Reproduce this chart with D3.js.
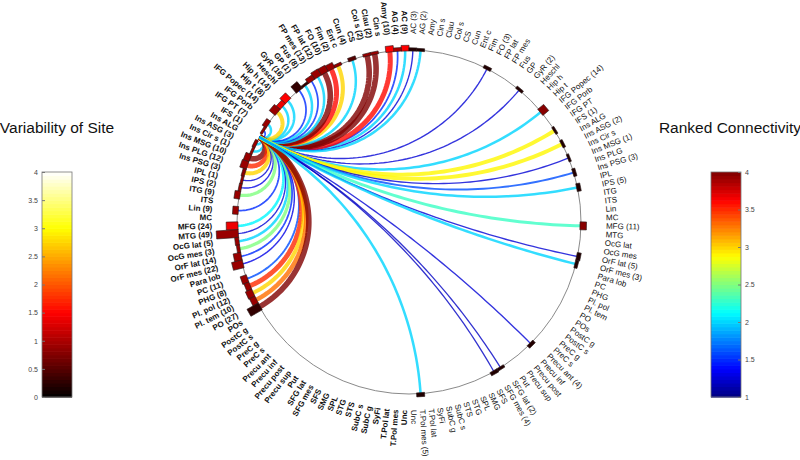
<!DOCTYPE html>
<html><head><meta charset="utf-8">
<script src="https://cdn.jsdelivr.net/npm/d3@7"></script>
<style>body{margin:0;background:#fff}</style>
</head><body><svg id="c" width="800" height="460"></svg>
<script>
// ---------- data ----------
const regions = ["AC","AG","Amy","Cin s","Clau","Col s","CS","Cun","Ent c","Fim","FO","FP lat","FP mes","Fus","GP","GyR","Heschl","Hip h","Hip t","IFG Popec","IFG Porb","IFG PT","IFS","Ins ALG","Ins ASG","Ins Cir s","Ins MSG","Ins PLG","Ins PSG","IPL","IPS","ITG","ITS","Lin","MC","MFG","MTG","OcG lat","OcG mes","OrF lat","OrF mes","Para lob","PC","PHG","Pl. pol","Pl. tem","PO","POs","PostC g","PostC s","PreC g","PreC s","Precu ant","Precu inf","Precu post","Precu sup","Put","SFG lat","SFG mes","SFS","SMG","SPL","STG","STS","SubC s","SubC g","SyFi","T.Pol lat","T.Pol mes","Unc"];
// number of sites per region (0 = none), left hemisphere (bold) and right hemisphere
const leftCounts = [9,4,10,0,2,2,0,4,0,2,10,12,13,8,1,16,0,14,8,14,0,7,1,0,3,1,10,12,3,1,2,9,0,9,0,24,49,5,3,14,22,0,11,8,12,10,27,0,0,0,0,0,0,0,0,0,0,0,0,0,0,0,0,0,0,0,0,0,0,0];
const rightCounts = [3,2,0,0,0,0,0,0,0,0,3,0,0,0,0,2,0,0,0,14,0,0,1,0,2,0,1,0,3,0,5,0,0,0,0,11,0,0,0,5,3,0,0,0,0,0,0,0,0,0,0,0,4,0,0,0,0,2,4,0,0,0,0,0,0,0,0,0,5,0];
// variability of site (0..4) for each region with sites
const leftVariability = [1.5,1.0,1.5,0,0.9,0.9,0,0.5,0,0.9,0.9,0.9,0.9,0.9,0.3,0.3,0,1.5,1.4,0.9,0,0.9,0.9,0,0.9,0.9,0.9,0.9,0.8,0.9,0.9,0.9,0,0.9,0,1.4,0.9,0.9,0.9,0.9,0.9,0,0.9,0.9,0.9,0.9,0.3,0,0,0,0,0,0,0,0,0,0,0,0,0,0,0,0,0,0,0,0,0,0,0];
const rightVariability = [0.2,0.2,0,0,0,0,0,0,0,0,0.2,0,0,0,0,0.2,0,0,0,0.8,0,0,0.2,0,0.2,0,0.2,0,0.2,0,0.2,0,0,0,0,0.8,0,0,0,0.2,0.2,0,0,0,0,0,0,0,0,0,0,0,0.2,0,0,0,0,0.2,0.2,0,0,0,0,0,0,0,0,0,0.2,0];
// hub region (left hemisphere)
const hubRegion = "Ins ALG";
// ranked connectivity (1..4) from hub to each target
const leftLinkTargets = ["AC","AG","Amy","Clau","Col s","Cun","Fim","FO","FP lat","FP mes","Fus","GP","GyR","Hip h","Hip t","IFG Popec","IFG PT","IFS","Ins ASG","Ins Cir s","Ins MSG","Ins PLG","Ins PSG","IPL","IPS","ITG","Lin","MFG","MTG","OcG lat","OcG mes","OrF lat","OrF mes","PC","PHG","Pl. pol","Pl. tem","PO"];
const leftLinkRanks   = [2.0,1.5,3.6,4.0,4.0,2.0,3.0,3.6,4.0,2.0,1.5,2.0,1.5,2.0,2.0,3.0,2.0,1.5,2.0,2.0,4.0,3.5,3.0,1.25,1.3,2.5,1.5,2.1,1.25,2.0,2.5,1.5,1.3,1.6,3.5,3.0,3.3,4.0];
const rightLinkTargets = ["AC","AG","FO","GyR","IFG Popec","IFS","Ins ASG","Ins MSG","Ins PSG","IPS","MFG","OrF lat","OrF mes","Precu ant","SFG lat","SFG mes","T.Pol mes"];
const rightLinkRanks   = [1.25,2.0,1.25,1.25,2.0,2.9,2.9,1.25,1.6,2.0,2.3,1.25,2.0,1.25,1.2,1.2,2.0];
const variabilityTicks = [0,0.5,1,1.5,2,2.5,3,3.5,4];
const connectivityTicks = [1,1.5,2,2.5,3,3.5,4];

// ---------- setup ----------
const svg = d3.select("#c");
const cx = 409, cy = 222, R = 172, labelRx = 197, labelRy = 188;
const n = regions.length;
const FONT = "Liberation Sans, Arial, Helvetica, sans-serif";
const clamp = v => Math.max(0, Math.min(1, v));
const jet = t => d3.rgb(255*clamp(Math.min(4*t-1.5, -4*t+4.5)), 255*clamp(Math.min(4*t-0.5, -4*t+3.5)), 255*clamp(Math.min(4*t+0.5, -4*t+2.5))).toString();
const hot = t => d3.rgb(255*clamp(t/0.375), 255*clamp((t-0.375)/0.375), 255*clamp((t-0.75)/0.25)).toString();
const rankColor = d3.scaleSequential(jet).domain([1,4]);
const varColor = d3.scaleSequential(hot).domain([0,4]);
const angleScale = d3.scaleLinear().domain([0, n]).range([0, Math.PI]); // from top
const radial = d3.scaleLinear().domain([0,1]).range([0,R]);
const barLen = d3.scaleLinear().domain([0,49]).range([2,22]);
const widthScale = d3.scaleLinear().domain([1,4]).range([1,5.6]);

function ang(side, i){ const a = angleScale(i+0.5); return side === "R" ? a : -a; }
function unit(a){ return [Math.sin(a), -Math.cos(a)]; }

const g = svg.append("g").attr("transform", `translate(${cx},${cy})`);

// circle
g.append("circle").attr("r", R).attr("fill","none").attr("stroke","#8a8a8a").attr("stroke-width",1);

// chords
const links = [];
leftLinkTargets.forEach((t,k)=>links.push({side:"L", idx:regions.indexOf(t), rank:leftLinkRanks[k]}));
rightLinkTargets.forEach((t,k)=>links.push({side:"R", idx:regions.indexOf(t), rank:rightLinkRanks[k]}));
const hubA = ang("L", regions.indexOf(hubRegion));
const line = d3.line().x(d=>radial(d[0])).y(d=>radial(d[1]));
function geodesic(a1, a2){
  const u = unit(a1), v = unit(a2);
  const dot = u[0]*v[0]+u[1]*v[1];
  if (1+dot < 1e-4) return [u, v];
  const c = [(u[0]+v[0])/(1+dot), (u[1]+v[1])/(1+dot)];
  const rho = Math.sqrt(c[0]*c[0]+c[1]*c[1]-1);
  const p1 = Math.atan2(u[1]-c[1], u[0]-c[0]);
  let p2 = Math.atan2(v[1]-c[1], v[0]-c[0]);
  let d = p2 - p1;
  while (d > Math.PI) d -= 2*Math.PI;
  while (d < -Math.PI) d += 2*Math.PI;
  return d3.range(0, 61).map(k => { const p = p1 + d*k/60; return [c[0]+rho*Math.cos(p), c[1]+rho*Math.sin(p)]; });
}
links.forEach(l=>{
  g.append("path").attr("d", line(geodesic(hubA, ang(l.side, l.idx))))
   .attr("fill","none").attr("stroke", rankColor(l.rank))
   .attr("stroke-width", widthScale(l.rank)).attr("stroke-opacity",0.8);
});

// bars + labels
function drawSide(side, counts, vars){
  regions.forEach((name,i)=>{
    const a = ang(side,i);
    const deg = a*180/Math.PI - 90;
    if (counts[i] > 0){
      g.append("rect").attr("transform", `rotate(${deg})`)
        .attr("x", R - 1).attr("y", -4).attr("width", barLen(counts[i])).attr("height", 8)
        .attr("fill", varColor(vars[i])).attr("stroke","#2a1a1a").attr("stroke-width",0.6);
    }
    const txt = counts[i] > 0 ? `${name} (${counts[i]})` : name;
    const px = labelRx*Math.sin(a), py = -labelRy*Math.cos(a);
    const t = g.append("text").text(txt)
      .attr("font-family", FONT).attr("font-size",8)
      .attr("dominant-baseline","central").attr("fill","#111");
    if (side === "R"){
      t.attr("transform", `translate(${px},${py}) rotate(${deg})`).attr("text-anchor","start");
    } else {
      t.attr("transform", `translate(${px},${py}) rotate(${deg+180})`).attr("text-anchor","end").attr("font-weight","bold");
    }
  });
}
drawSide("L", leftCounts, leftVariability);
drawSide("R", rightCounts, rightVariability);

// ---------- colorbars ----------
function colorbar(x, w, domain, interp, ticks, orient, title, titleX){
  const y = d3.scaleLinear().domain(domain).range([397,172]);
  const steps = d3.range(64);
  const span = domain[1]-domain[0];
  svg.append("g").selectAll("rect").data(steps).join("rect")
    .attr("x", x).attr("width", w)
    .attr("y", k => y(domain[0] + span*(k+1)/64))
    .attr("height", k => y(domain[0] + span*k/64) - y(domain[0] + span*(k+1)/64) + 0.6)
    .attr("fill", k => interp((k+0.5)/64));
  svg.append("rect").attr("x",x).attr("y",172).attr("width",w).attr("height",225)
    .attr("fill","none").attr("stroke","#777").attr("stroke-width",0.8);
  const axis = (orient === "left" ? d3.axisLeft(y) : d3.axisRight(y))
    .tickValues(ticks).tickFormat(d3.format("~g")).tickSizeInner(-3).tickSizeOuter(0).tickPadding(4);
  const ag = svg.append("g").attr("transform", `translate(${orient==="left"? x : x+w},0)`).call(axis);
  ag.select(".domain").remove();
  ag.selectAll("line").attr("stroke","#777");
  ag.selectAll("text").attr("font-family", FONT).attr("font-size",7).attr("fill","#444");
  svg.append("text").text(title).attr("x", titleX).attr("y", 133).attr("text-anchor","middle")
    .attr("font-family", FONT).attr("font-size",15.5).attr("fill","#111");
}
colorbar(42, 30, [0,4], hot, variabilityTicks, "left", "Variability of Site", 57);
colorbar(711, 30, [1,4], jet, connectivityTicks, "right", "Ranked Connectivity", 730);
</script></body></html>
